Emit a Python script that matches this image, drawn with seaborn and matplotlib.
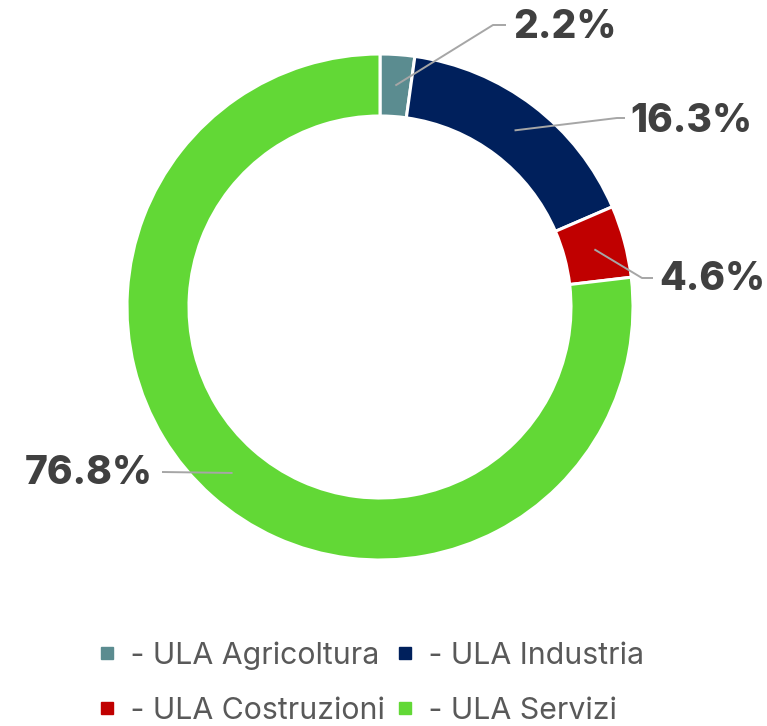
import matplotlib
matplotlib.use("Agg")
import numpy as np
import matplotlib.pyplot as plt
from matplotlib.lines import Line2D
import seaborn as sns

# data
categories = [" - ULA Agricoltura", " - ULA Industria", " - ULA Costruzioni", " - ULA Servizi"]
shares = [2.2, 16.3, 4.6, 76.8]
labels = ["2.2%", "16.3%", "4.6%", "76.8%"]
colors = ["#5b8c90", "#00205c", "#c00000", "#62d836"]

sns.set_theme(style="white")
plt.rcParams["font.family"] = ["Inter", "DejaVu Sans"]

W, H = 767, 726
fig = plt.figure(figsize=(W / 100, H / 100), dpi=100)
ax = fig.add_axes([0, 0, 1, 1])

cx, cy, R, ring = 380, H - 307, 253, 62
wedges, _ = ax.pie(shares, colors=colors, startangle=90, counterclock=False,
                   radius=R, center=(cx, cy),
                   wedgeprops=dict(width=ring, edgecolor="white", linewidth=2.2))
ax.set_xlim(0, W)
ax.set_ylim(0, H)
ax.set_aspect("equal")
ax.axis("off")

# leader line layout: (elbow x, elbow y, end x, text x, text y, ha) in pixels from top
layout = [
    (493, 25, 506, 513, 28, "left"),
    (617, 118, 625, 630, 122, "left"),
    (642, 278, 653, 659, 280, "left"),
    (162, 472, 162, 153, 473, "right"),
]
for w, lab, (ex, ey, endx, tx, ty, ha) in zip(wedges, labels, layout):
    mid = np.deg2rad((w.theta1 + w.theta2) / 2)
    r = R - ring / 2
    px, py = cx + r * np.cos(mid), cy + r * np.sin(mid)
    ax.plot([px, ex, endx], [py, H - ey, H - ey], color="#a6a6a6", lw=1.4,
            solid_capstyle="butt")
    ax.text(tx, H - ty, lab, ha=ha, va="center", fontsize=28,
            fontweight="heavy", color="#404040")

# legend fills column by column, reorder so rows read as in the reference
order = [0, 2, 1, 3]
handles = [Line2D([], [], marker="s", linestyle="none", markersize=9,
                  markerfacecolor=colors[i], markeredgecolor=colors[i]) for i in order]
fig.legend(handles, [categories[i] for i in order], loc="center",
           bbox_to_anchor=(0.48, 1 - 683 / H),
           ncol=2, frameon=False, labelcolor="#595959",
           prop={"weight": "normal", "size": 21.8},
           handletextpad=0.0, columnspacing=0.15, handlelength=1.0,
           labelspacing=0.9, borderpad=0.2)

fig.savefig("out.png", dpi=100)
